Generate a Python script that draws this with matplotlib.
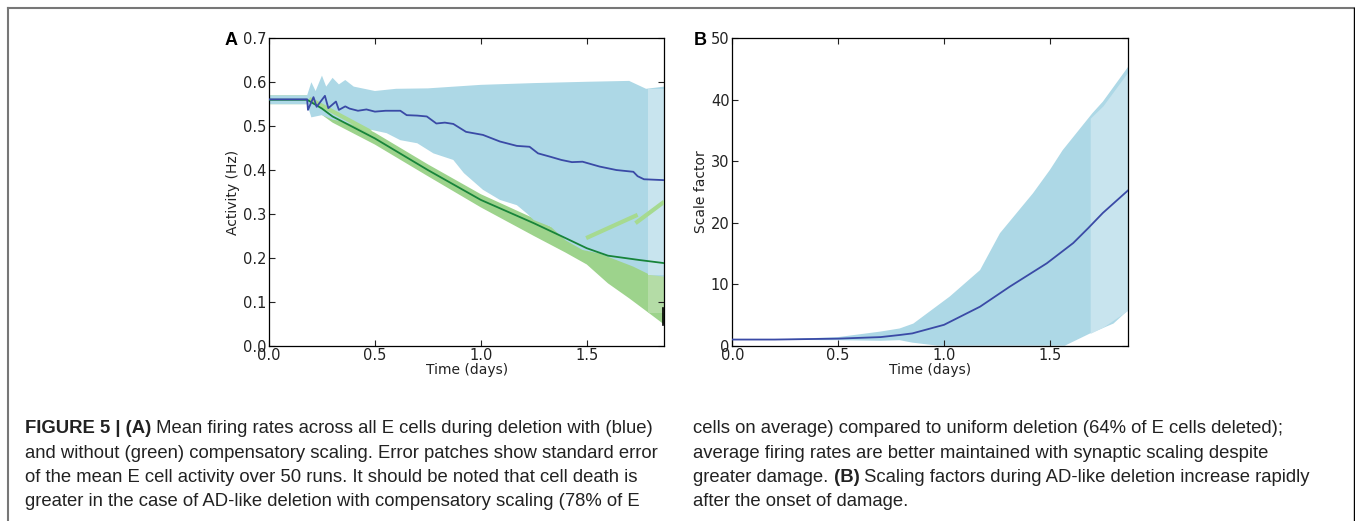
import matplotlib
matplotlib.use("Agg")
import matplotlib.pyplot as plt
import numpy as np
from matplotlib.lines import Line2D

# ---- panel A: mean E-cell activity (Hz) ----
a_t_blue = [0, 0.18, 0.184, 0.21, 0.225, 0.264, 0.28, 0.316, 0.33, 0.36, 0.38, 0.42, 0.46, 0.50,
            0.55, 0.62, 0.65, 0.70, 0.745, 0.79, 0.83, 0.87, 0.93, 1.01, 1.09, 1.17, 1.23, 1.27,
            1.33, 1.38, 1.43, 1.48, 1.56, 1.64, 1.72, 1.74, 1.77, 1.866]
a_blue_mean = [0.561, 0.561, 0.537, 0.566, 0.544, 0.569, 0.541, 0.556, 0.537, 0.545, 0.540, 0.535,
               0.538, 0.533, 0.535, 0.535, 0.525, 0.524, 0.522, 0.506, 0.508, 0.505, 0.487, 0.480,
               0.465, 0.455, 0.453, 0.438, 0.430, 0.423, 0.418, 0.419, 0.408, 0.400, 0.396, 0.386,
               0.379, 0.377]
a_t_blue_up = [0, 0.18, 0.2, 0.22, 0.25, 0.27, 0.3, 0.33, 0.36, 0.4, 0.45, 0.5, 0.6, 0.75, 1.0,
               1.25, 1.5, 1.7, 1.78, 1.866]
a_blue_up = [0.57, 0.57, 0.60, 0.58, 0.615, 0.59, 0.61, 0.595, 0.605, 0.59, 0.585, 0.58, 0.585,
             0.586, 0.594, 0.598, 0.601, 0.603, 0.585, 0.59]
a_t_blue_lo = [0, 0.18, 0.2, 0.25, 0.3, 0.35, 0.45, 0.555, 0.62, 0.70, 0.776, 0.87, 0.92, 1.01,
               1.09, 1.17, 1.22, 1.25, 1.33, 1.40, 1.48, 1.56, 1.64, 1.72, 1.80, 1.866]
a_blue_lo = [0.55, 0.55, 0.52, 0.525, 0.515, 0.51, 0.495, 0.484, 0.468, 0.461, 0.438, 0.423, 0.393,
             0.355, 0.332, 0.32, 0.30, 0.286, 0.271, 0.24, 0.218, 0.21, 0.195, 0.18, 0.161, 0.157]

a_t_green = [0, 0.18, 0.25, 0.3, 0.5, 0.75, 1.0, 1.25, 1.4, 1.5, 1.6, 1.75, 1.866]
a_green_mean = [0.56, 0.56, 0.54, 0.522, 0.472, 0.40, 0.332, 0.279, 0.245, 0.222, 0.205, 0.195, 0.188]
a_t_green_up = [0, 0.18, 0.3, 0.5, 0.75, 1.0, 1.25, 1.4, 1.5, 1.6, 1.75, 1.866]
a_green_up = [0.57, 0.57, 0.535, 0.485, 0.413, 0.345, 0.29, 0.255, 0.232, 0.215, 0.205, 0.198]
a_t_green_lo = [0, 0.18, 0.3, 0.5, 0.75, 1.0, 1.25, 1.4, 1.5, 1.6, 1.7, 1.8, 1.866]
a_green_lo = [0.55, 0.55, 0.508, 0.458, 0.386, 0.315, 0.25, 0.212, 0.185, 0.142, 0.108, 0.072, 0.048]

# stray light-green streaks
a_streaks = [([0.19, 0.48], [0.562, 0.487]),
             ([1.497, 1.74], [0.245, 0.298]),
             ([1.73, 1.866], [0.279, 0.328])]
a_fade_t = [1.79, 1.866]
a_fade_blue = [0.162, 0.585]
a_fade_green = [0.075, 0.16]

# ---- panel B: scale factor ----
b_t_mean = [0, 0.2, 0.5, 0.7, 0.79, 0.85, 1.0, 1.17, 1.31, 1.485, 1.61, 1.68, 1.75, 1.87]
b_mean = [1.0, 1.0, 1.15, 1.4, 1.74, 2.0, 3.4, 6.35, 9.6, 13.4, 16.7, 19.1, 21.6, 25.3]
b_t_up = [0, 0.2, 0.5, 0.7, 0.79, 0.855, 1.027, 1.17, 1.264, 1.42, 1.5, 1.56, 1.7, 1.75, 1.87]
b_up = [1.0, 1.0, 1.4, 2.3, 2.8, 3.6, 8.0, 12.3, 18.3, 24.8, 28.6, 31.8, 37.8, 39.7, 45.4]
b_t_lo = [0, 0.2, 0.5, 0.7, 0.79, 0.85, 0.97, 1.57, 1.69, 1.8, 1.87]
b_lo = [1.0, 0.95, 0.9, 0.8, 0.9, 0.5, 0.0, 0.0, 2.0, 3.6, 5.8]
b_fade_t = [1.69, 1.75, 1.87]
b_fade_up = [37.0, 39.0, 44.6]
b_fade_lo = [2.0, 3.0, 5.8]

caption_left = [
    [("FIGURE 5 | (A)", True), (" Mean firing rates across all E cells during deletion with (blue)", False)],
    [("and without (green) compensatory scaling. Error patches show standard error", False)],
    [("of the mean E cell activity over 50 runs. It should be noted that cell death is", False)],
    [("greater in the case of AD-like deletion with compensatory scaling (78% of E", False)],
]
caption_right = [
    [("cells on average) compared to uniform deletion (64% of E cells deleted);", False)],
    [("average firing rates are better maintained with synaptic scaling despite", False)],
    [("greater damage.", False), (" (B)", True), (" Scaling factors during AD-like deletion increase rapidly", False)],
    [("after the onset of damage.", False)],
]

BAND_BLUE = "#add8e6"
FADE_BLUE = "#c8e4ee"
LINE_BLUE = "#3a4aa6"
BAND_GREEN = "#9dd38c"
LINE_GREEN = "#17843a"
W, H = 1355, 521

plt.rcParams["font.family"] = ["DejaVu Sans"]
fig = plt.figure(figsize=(W / 100, H / 100), dpi=100)


def poly(ax, t_up, up, t_lo, lo, **kw):
    xs = list(t_up) + list(t_lo)[::-1]
    ys = list(up) + list(lo)[::-1]
    ax.fill(xs, ys, lw=0, **kw)


def style(ax, ylabel):
    ax.tick_params(direction="in", top=True, right=True, length=4, width=0.8,
                   labelsize=10.5, pad=2, colors="#222222")
    for s in ax.spines.values():
        s.set_linewidth(0.9)
    ax.set_xlabel("Time (days)", fontsize=10, labelpad=0, color="#222222")
    ax.set_ylabel(ylabel, fontsize=10, labelpad=2, color="#222222")


axA = fig.add_axes([269 / W, 1 - 345.7 / H, 395.3 / W, 307.4 / H])
poly(axA, a_t_green_up, a_green_up, a_t_green_lo, a_green_lo, color=BAND_GREEN, zorder=1)
axA.fill_between(a_fade_t, a_fade_green[0], a_fade_green[1], color="#b4dca6", lw=0, zorder=1.5)
poly(axA, a_t_blue_up, a_blue_up, a_t_blue_lo, a_blue_lo, color=BAND_BLUE, zorder=2)
axA.fill_between(a_fade_t, a_fade_blue[0], a_fade_blue[1], color=FADE_BLUE, lw=0, zorder=2.5)
for xs, ys in a_streaks:
    axA.plot(xs, ys, color="#a6da90", lw=3, solid_capstyle="butt", zorder=3)
axA.plot(a_t_green, a_green_mean, color=LINE_GREEN, lw=1.3, zorder=4)
axA.plot(a_t_blue, a_blue_mean, color=LINE_BLUE, lw=1.3, zorder=5)
axA.plot([1.862, 1.862], [0.047, 0.085], color="black", lw=1.2, zorder=6)
axA.set_xlim(0, 1.866)
axA.set_ylim(0, 0.7)
axA.set_xticks([0, 0.5, 1.0, 1.5])
axA.set_yticks(np.arange(0, 0.71, 0.1))
axA.set_xticklabels(["0.0", "0.5", "1.0", "1.5"])
axA.set_yticklabels([f"{v:.1f}" for v in np.arange(0, 0.71, 0.1)])
style(axA, "Activity (Hz)")

axB = fig.add_axes([732.3 / W, 1 - 345.7 / H, 396 / W, 307.4 / H])
poly(axB, b_t_up, b_up, b_t_lo, b_lo, color=BAND_BLUE, zorder=1)
axB.fill_between(b_fade_t, b_fade_lo, b_fade_up, color=FADE_BLUE, lw=0, zorder=2)
axB.plot(b_t_mean, b_mean, color=LINE_BLUE, lw=1.3, zorder=3)
axB.set_xlim(0, 1.87)
axB.set_ylim(0, 50)
axB.set_xticks([0, 0.5, 1.0, 1.5])
axB.set_xticklabels(["0.0", "0.5", "1.0", "1.5"])
axB.set_yticks([0, 10, 20, 30, 40, 50])
style(axB, "Scale factor")

fig.text(231.5 / W, 1 - 45 / H, "A", fontsize=13, fontweight="bold",
         family=["Liberation Sans", "DejaVu Sans"], ha="center", va="baseline")
fig.text(700 / W, 1 - 45 / H, "B", fontsize=13, fontweight="bold",
         family=["Liberation Sans", "DejaVu Sans"], ha="center", va="baseline")

# page frame
fig.add_artist(Line2D([8 / W, 1354 / W], [1 - 8 / H] * 2, transform=fig.transFigure,
                      color="#777777", lw=1.5))
fig.add_artist(Line2D([8 / W] * 2, [0, 1 - 8 / H], transform=fig.transFigure,
                      color="#777777", lw=1.5))
fig.add_artist(Line2D([1353.5 / W] * 2, [0, 1 - 8 / H], transform=fig.transFigure,
                      color="black", lw=1.0))

cap_font = ["Liberation Sans", "DejaVu Sans"]
renderer = fig.canvas.get_renderer()


def caption(x0, lines):
    for i, runs in enumerate(lines):
        x = x0
        y = 1 - (433 + 24.5 * i) / H
        for txt, bold in runs:
            t = fig.text(x / W, y, txt, fontsize=13.3, family=cap_font, color="#222222",
                         fontweight="bold" if bold else "normal", va="baseline", ha="left")
            x += t.get_window_extent(renderer=renderer).width


caption(25, caption_left)
caption(693.3, caption_right)

fig.savefig("out.png", dpi=100)
